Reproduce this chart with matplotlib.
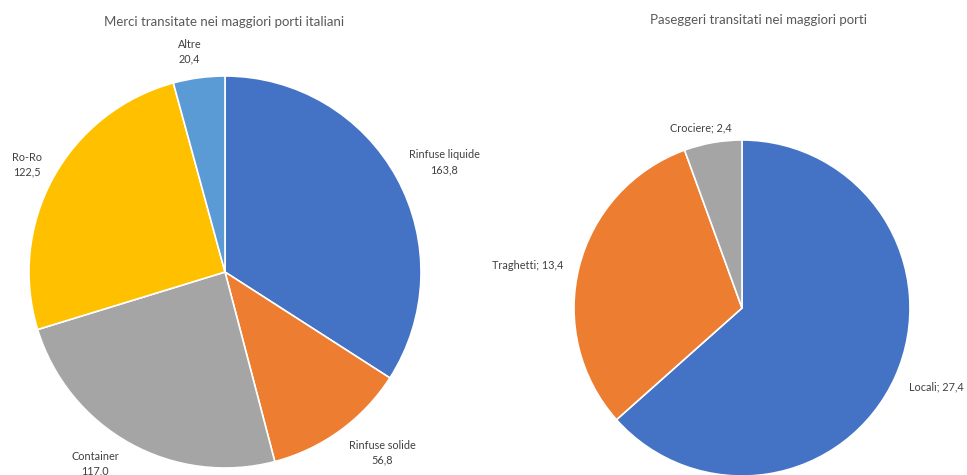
import numpy as np
import matplotlib.pyplot as plt

plt.rcParams['font.family'] = ['Lato', 'DejaVu Sans']

# merci (milioni di tonnellate)
merci_labels = ["Rinfuse liquide", "Rinfuse solide", "Container", "Ro-Ro", "Altre"]
merci_values = [163.8, 56.8, 117.0, 122.5, 20.4]
merci_colors = ["#4472C4", "#ED7D31", "#A5A5A5", "#FFC000", "#5B9BD5"]

# passeggeri (milioni)
pass_labels = ["Locali", "Traghetti", "Crociere"]
pass_values = [27.4, 13.4, 2.4]
pass_colors = ["#4472C4", "#ED7D31", "#A5A5A5"]

W, H = 967, 475
fig = plt.figure(figsize=(W / 100, H / 100), dpi=100)


def pie_axes(cx, cy, r):
    return fig.add_axes([(cx - r) / W, (H - cy - r) / H, 2 * r / W, 2 * r / H])


def fmt(v):
    return f"{v:.1f}".replace(".", ",")


def draw_pie(ax, values, colors, texts, dists, shifts):
    wedges, _ = ax.pie(values, colors=colors, startangle=90, counterclock=False,
                       radius=1.0, wedgeprops=dict(edgecolor="white", linewidth=1.2))
    # label placed around the wedge's mid angle, nudged by a few degrees
    for w, t, d, s in zip(wedges, texts, dists, shifts):
        mid = np.deg2rad((w.theta1 + w.theta2) / 2 + s)
        ax.text(d * np.cos(mid), d * np.sin(mid), t, ha="center", va="center",
                fontsize=7.8, color="#404040", linespacing=1.4, clip_on=False)
    ax.set_xlim(-1, 1)
    ax.set_ylim(-1, 1)
    ax.set_aspect('equal')
    ax.axis('off')


ax1 = pie_axes(225, 272, 196)
draw_pie(ax1, merci_values, merci_colors,
         [f"{l}\n{fmt(v)}" for l, v in zip(merci_labels, merci_values)],
         [1.25, 1.22, 1.18, 1.15, 1.14],
         [-2, 5, -5, 0.5, 1.5])

ax2 = pie_axes(742, 308, 168)
draw_pie(ax2, pass_values, pass_colors,
         [f"{l}; {fmt(v)}" for l, v in zip(pass_labels, pass_values)],
         [1.25, 1.3, 1.1],
         [2, 3, 3])

fig.text(224 / W, 1 - 22 / H, "Merci transitate nei maggiori porti italiani",
         ha="center", va="center", fontsize=9.5, color="#595959")
fig.text(758 / W, 1 - 20 / H, "Paseggeri transitati nei maggiori porti",
         ha="center", va="center", fontsize=9.5, color="#595959")

fig.savefig("out.png", dpi=100, facecolor="white")
